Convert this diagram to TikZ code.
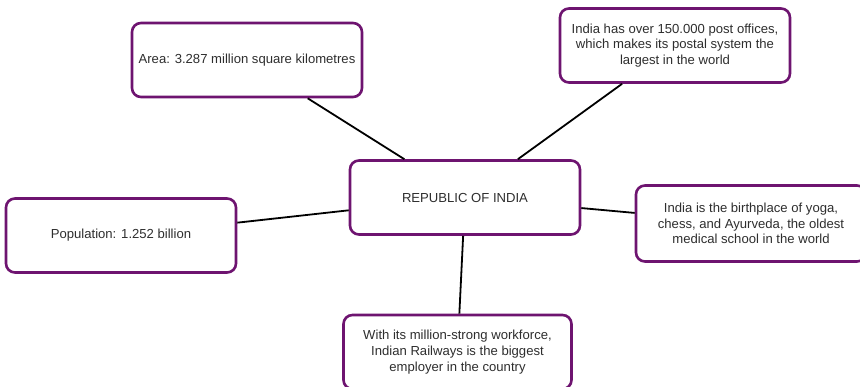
\documentclass[tikz,border=0pt]{standalone}
\usepackage{fontspec}
\setmainfont{Liberation Sans}
\definecolor{boxpurple}{HTML}{6E1470}
\definecolor{txtgray}{HTML}{2E2E2E}
\begin{document}
\begin{tikzpicture}[x=1pt,y=-1pt,
  infobox/.style={draw=boxpurple, line width=2.6pt, rounded corners=9pt, fill=white,
    text=txtgray, align=center, minimum width=230pt, minimum height=74pt,
    inner sep=2pt, font=\fontsize{13.1}{15.7}\selectfont},
  link/.style={draw=black, line width=1.8pt}]
\useasboundingbox (0,0) rectangle (860,387);
\node[infobox] (center) at (465,197.5) {REPUBLIC OF INDIA};
\node[infobox] (area) at (247,60) {Area: 3.287 million square kilometres};
\node[infobox] (post) at (675,45.5) {India has over 150.000 post offices,\\which makes its postal system the\\largest in the world};
\node[infobox] (pop) at (121,235.5) {Population: 1.252 billion};
\node[infobox, minimum height=76pt] (yoga) at (751,223.5) {India is the birthplace of yoga,\\chess, and Ayurveda, the oldest\\medical school in the world};
\node[infobox, minimum width=228pt] (rail) at (457.5,352) {With its million-strong workforce,\\Indian Railways is the biggest\\employer in the country};
\draw[link] (area) -- (center);
\draw[link] (post) -- (center);
\draw[link] (pop) -- (center);
\draw[link] (yoga) -- (center);
\draw[link] (rail) -- (center);
\end{tikzpicture}
\end{document}
